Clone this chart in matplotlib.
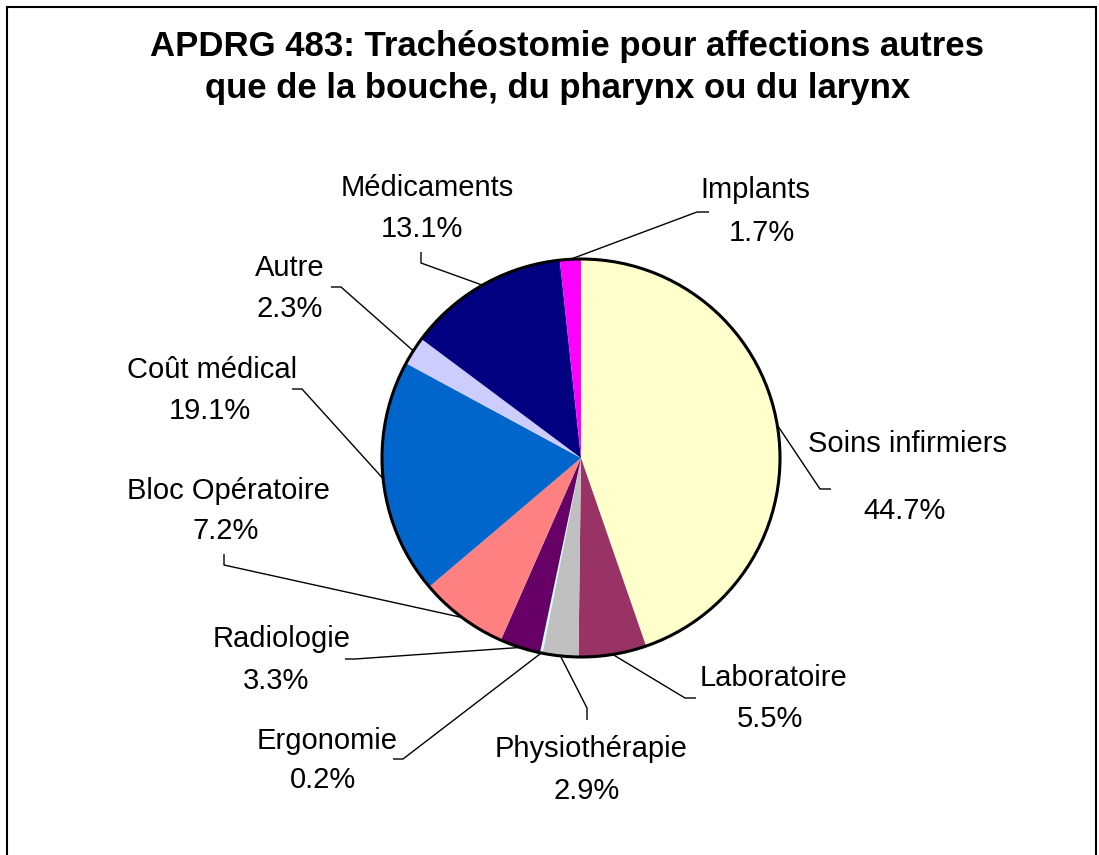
import numpy as np
import matplotlib
matplotlib.use("Agg")
import matplotlib.pyplot as plt
from matplotlib.patches import Circle, Rectangle

plt.rcParams['font.family'] = ['Liberation Sans', 'DejaVu Sans']

# Data (clockwise from 12 o'clock)
categories = ["Soins infirmiers", "Laboratoire", "Physiothérapie", "Ergonomie",
              "Radiologie", "Bloc Opératoire", "Coût médical", "Autre",
              "Médicaments", "Implants"]
values = [44.7, 5.5, 2.9, 0.2, 3.3, 7.2, 19.1, 2.3, 13.1, 1.7]
colors = ["#FFFFCC", "#993366", "#C0C0C0", "#CCFFFF", "#660066",
          "#FF8080", "#0066CC", "#CCCCFF", "#000080", "#FF00FF"]
title_lines = ["APDRG 483: Trachéostomie pour affections autres",
               "que de la bouche, du pharynx ou du larynx"]

W, H = 1099, 855
fig = plt.figure(figsize=(W / 100, H / 100), dpi=100)
ax = fig.add_axes([0, 0, 1, 1])

cx, cy, R = 581, H - 458, 199
ax.pie(values, colors=colors, startangle=90, counterclock=False,
       center=(cx, cy), radius=R, wedgeprops=dict(linewidth=0))
ax.add_patch(Circle((cx, cy), R, fill=False, edgecolor='black', lw=2.2, zorder=5))

# label layout (pixel coords, y from top): name baseline pos, pct baseline pos,
# leader elbow, stub end
layout = {
    "Soins infirmiers": ((908, 452), (905, 519), (820, 489), (831, 489)),
    "Laboratoire":      ((774, 686), (770, 727), (685, 698), (696, 698)),
    "Physiothérapie":   ((591, 757), (587, 799), (587, 708), (587, 720)),
    "Ergonomie":        ((327, 749), (323, 788), (403, 759), (393, 759)),
    "Radiologie":       ((282, 647), (276, 689), (355, 659), (345, 659)),
    "Bloc Opératoire":  ((228, 499), (226, 539), (224, 565), (224, 554)),
    "Coût médical":     ((212, 378), (210, 419), (302, 389), (292, 389)),
    "Autre":            ((290, 276), (290, 317), (341, 287), (331, 287)),
    "Médicaments":      ((427, 196), (422, 237), (421, 263), (421, 252)),
    "Implants":         ((755, 198), (762, 241), (697, 212), (709, 212)),
}

total = sum(values)
cum = 0.0
for name, v in zip(categories, values):
    mid = 90 - 360 * (cum + v / 2) / total
    cum += v
    px = cx + R * np.cos(np.radians(mid))
    py = cy + R * np.sin(np.radians(mid))
    (nx, ny), (qx, qy), (ex, ey), (sx, sy) = layout[name]
    ax.plot([px, ex, sx], [py, H - ey, H - sy], color='black', lw=1.0, zorder=4,
            solid_capstyle='butt')
    ax.text(nx, H - ny, name, ha='center', va='baseline', fontsize=21)
    ax.text(qx, H - qy, f"{v:.1f}%", ha='center', va='baseline', fontsize=21)

ax.text(567, H - 56, title_lines[0], ha='center', va='baseline', fontsize=25,
        fontweight='bold')
ax.text(558, H - 98, title_lines[1], ha='center', va='baseline', fontsize=25,
        fontweight='bold')

ax.add_patch(Rectangle((7, -20), 1089, H - 7 + 20, fill=False, edgecolor='black',
                       lw=1.5, clip_on=False))

ax.set_xlim(0, W)
ax.set_ylim(0, H)
ax.set_aspect('auto')
ax.axis('off')
fig.savefig("out.png", dpi=100, facecolor='white')
